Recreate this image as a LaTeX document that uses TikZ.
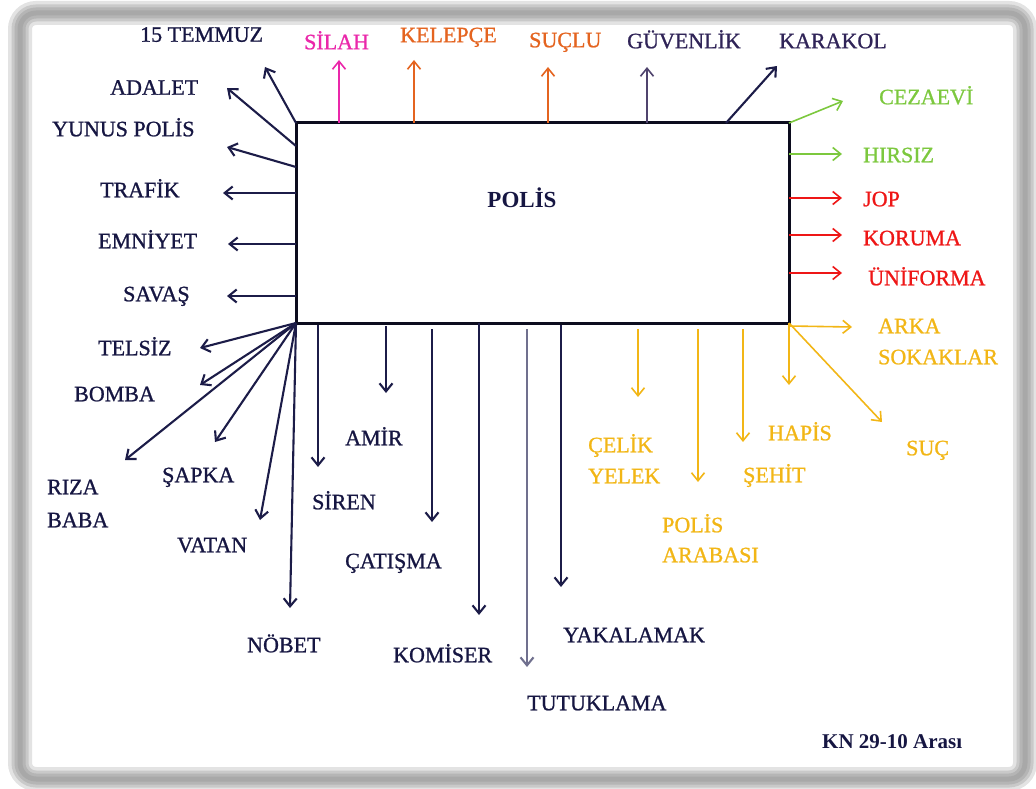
\documentclass[tikz,border=0pt]{standalone}
\usepackage{fontspec}
\setmainfont{Liberation Serif}
\newfontfamily\lblfont[FakeBold=1.0]{Liberation Serif}
\usetikzlibrary{arrows.meta}
\definecolor{navy}{RGB}{22,22,66}
\definecolor{navyline}{RGB}{28,28,72}
\definecolor{purp}{RGB}{48,36,88}
\definecolor{purpline}{RGB}{80,68,110}
\definecolor{magen}{RGB}{234,40,170}
\definecolor{orng}{RGB}{228,100,32}
\definecolor{grn}{RGB}{124,200,62}
\definecolor{rd}{RGB}{238,22,22}
\definecolor{gld}{RGB}{242,182,22}
\definecolor{tutu}{RGB}{112,112,142}
\definecolor{boxc}{RGB}{12,12,30}
\begin{document}
\begin{tikzpicture}[x=1pt,y=-1pt,
  lbl/.style={inner sep=0pt, text height=14.5pt, text depth=0pt, font=\lblfont\fontsize{22}{32}\selectfont, text=navy, anchor=west},
  ml/.style={inner sep=0pt, align=left, anchor=base west, text=navy},
  tipA/.style={-{Straight Barb[length=8pt,width=13pt]}},
  nav/.style={tipA, draw=navyline, line width=2.1pt},
  col/.style={tipA, line width=1.6pt},
  frame/.style={rounded corners=16pt}]
\useasboundingbox (0,0) rectangle (1036,789);
% frame
\draw[frame, gray!22, line width=24pt] (20,13) rectangle (1025,779);
\draw[frame, gray!42, line width=17pt] (20,13) rectangle (1025,779);
\draw[frame, gray!58, line width=11pt] (20,13) rectangle (1025,779);
\draw[frame, gray!68, line width=5pt] (20,13) rectangle (1025,779);

% central box
\node[draw=boxc, line width=3pt, minimum width=493pt, minimum height=200pt, inner sep=0pt, outer sep=0pt] (box) at (542.5,223) {};
\node[inner sep=0pt, font=\bfseries\fontsize{23}{26}\selectfont, text=navy] (title) at (522,198) {POLİS};

% labels - top
\node[lbl] (temmuz) at (140,34.5) {15 TEMMUZ};
\node[lbl, text=magen] (silah) at (304,42) {SİLAH};
\node[lbl, text=orng] (kelepce) at (400,35) {KELEPÇE};
\node[lbl, text=orng] (suclu) at (529,40) {SUÇLU};
\node[lbl, text=purp] (guvenlik) at (627,41) {GÜVENLİK};
\node[lbl, text=purp] (karakol) at (779,41) {KARAKOL};
% right
\node[lbl, text=grn] (cezaevi) at (879,97) {CEZAEVİ};
\node[lbl, text=grn] (hirsiz) at (863,155) {HIRSIZ};
\node[lbl, text=rd] (jop) at (863,199) {JOP};
\node[lbl, text=rd] (koruma) at (863,238) {KORUMA};
\node[lbl, text=rd] (uniforma) at (868,278) {ÜNİFORMA};
\node[ml, text=gld, font=\lblfont\fontsize{22}{31}\selectfont] (arka) at (878,364.25) {ARKA\\SOKAKLAR};
\node[lbl, text=gld] (suc) at (906,448) {SUÇ};
\node[lbl, text=gld] (hapis) at (768,433) {HAPİS};
\node[lbl, text=gld] (sehit) at (743,475) {ŞEHİT};
\node[ml, text=gld, font=\lblfont\fontsize{22}{31}\selectfont] (celik) at (588,483.25) {ÇELİK\\YELEK};
\node[ml, text=gld, font=\lblfont\fontsize{22}{30}\selectfont] (araba) at (662,562.25) {POLİS\\ARABASI};
% bottom
\node[lbl] (yakala) at (563,635) {YAKALAMAK};
\node[lbl] (tutuk) at (527,703) {TUTUKLAMA};
\node[lbl] (komiser) at (393,655) {KOMİSER};
\node[lbl] (catisma) at (345,561) {ÇATIŞMA};
\node[lbl] (amir) at (345,438) {AMİR};
\node[lbl] (siren) at (312,502) {SİREN};
\node[lbl] (nobet) at (247,645) {NÖBET};
\node[lbl] (vatan) at (177,545) {VATAN};
\node[lbl] (sapka) at (162,475) {ŞAPKA};
\node[ml, font=\lblfont\fontsize{22}{33}\selectfont] (riza) at (47,527.25) {RIZA\\BABA};
\node[lbl] (bomba) at (74,394) {BOMBA};
\node[lbl] (telsiz) at (98,348) {TELSİZ};
% left
\node[lbl] (savas) at (123,294) {SAVAŞ};
\node[lbl] (emniyet) at (98,241) {EMNİYET};
\node[lbl] (trafik) at (100,190) {TRAFİK};
\node[lbl] (yunus) at (52,129) {YUNUS POLİS};
\node[lbl] (adalet) at (110,87.5) {ADALET};

\node[inner sep=0pt, anchor=west, text height=14pt, text depth=0pt, font=\bfseries\fontsize{21}{24}\selectfont, text=navy] (kn) at (822,741) {KN 29-10 Arası};

% arrow tips
\coordinate (a-temmuz) at (265,67);
\coordinate (a-adalet) at (227,88);
\coordinate (a-yunus) at (227,147);
\coordinate (a-trafik) at (223,193);
\coordinate (a-emniyet) at (228,244);
\coordinate (a-savas) at (227,296);
\coordinate (a-telsiz) at (200,348);
\coordinate (a-bomba) at (200,385);
\coordinate (a-riza) at (125,460);
\coordinate (a-sapka) at (215,442);
\coordinate (a-vatan) at (260,520);
\coordinate (a-nobet) at (290,608);
\coordinate (a-siren) at (318,467);
\coordinate (a-amir) at (386,393);
\coordinate (a-catisma) at (432,522);
\coordinate (a-komiser) at (479,615);
\coordinate (a-tutuk) at (527,667);
\coordinate (a-yakala) at (561,587);
\coordinate (a-celik) at (638,397);
\coordinate (a-araba) at (698,482);
\coordinate (a-sehit) at (743,442);
\coordinate (a-hapis) at (789,385);
\coordinate (a-arka) at (852,327);
\coordinate (a-suc) at (882,422);
\coordinate (a-cezaevi) at (843,101);
\coordinate (a-hirsiz) at (842,154);
\coordinate (a-jop) at (842,198);
\coordinate (a-koruma) at (842,235);
\coordinate (a-uniforma) at (842,273);
\coordinate (a-silah) at (339,60);
\coordinate (a-kelepce) at (414,60);
\coordinate (a-suclu) at (548,67);
\coordinate (a-guvenlik) at (647,67);
\coordinate (a-karakol) at (777,66);

% left arrows
\draw[nav] (box.north west) -- (a-temmuz);
\draw[nav] ([yshift=-23pt]box.north west) -- (a-adalet);
\draw[nav] ([yshift=-44pt]box.north west) -- (a-yunus);
\draw[nav] (box.west |- a-trafik) -- (a-trafik);
\draw[nav] (box.west |- a-emniyet) -- (a-emniyet);
\draw[nav] (box.west |- a-savas) -- (a-savas);
\draw[nav] (box.south west) -- (a-telsiz);
\draw[nav] (box.south west) -- (a-bomba);
\draw[nav] (box.south west) -- (a-riza);
\draw[nav] (box.south west) -- (a-sapka);
\draw[nav] (box.south west) -- (a-vatan);
\draw[nav] (box.south west) -- (a-nobet);
% bottom arrows
\draw[nav, shorten <=2pt] (a-siren |- box.south) -- (a-siren);
\draw[nav, shorten <=3pt] (a-amir |- box.south) -- (a-amir);
\draw[nav, shorten <=6pt] (a-catisma |- box.south) -- (a-catisma);
\draw[nav] (a-komiser |- box.south) -- (a-komiser);
\draw[nav, draw=tutu, shorten <=6pt] (a-tutuk |- box.south) -- (a-tutuk);
\draw[nav, shorten <=2pt] (a-yakala |- box.south) -- (a-yakala);
\draw[col, draw=gld, shorten <=6pt] (a-celik |- box.south) -- (a-celik);
\draw[col, draw=gld, shorten <=6pt] (a-araba |- box.south) -- (a-araba);
\draw[col, draw=gld, shorten <=6pt] (a-sehit |- box.south) -- (a-sehit);
\draw[col, draw=gld] (box.south east) -- (a-hapis);
\draw[col, draw=gld] ([yshift=-3pt]box.south east) -- (a-arka);
\draw[col, draw=gld] (box.south east) -- (a-suc);
% right arrows
\draw[col, draw=grn] (box.north east) -- (a-cezaevi);
\draw[col, draw=grn] (box.east |- a-hirsiz) -- (a-hirsiz);
\draw[col, draw=rd] (box.east |- a-jop) -- (a-jop);
\draw[col, draw=rd] (box.east |- a-koruma) -- (a-koruma);
\draw[col, draw=rd] (box.east |- a-uniforma) -- (a-uniforma);
% top arrows
\draw[col, draw=magen] (a-silah |- box.north) -- (a-silah);
\draw[col, draw=orng] (a-kelepce |- box.north) -- (a-kelepce);
\draw[col, draw=orng] (a-suclu |- box.north) -- (a-suclu);
\draw[col, draw=purpline] (a-guvenlik |- box.north) -- (a-guvenlik);
\draw[nav] ([xshift=-63pt]box.north east) -- (a-karakol);
\end{tikzpicture}
\end{document}
